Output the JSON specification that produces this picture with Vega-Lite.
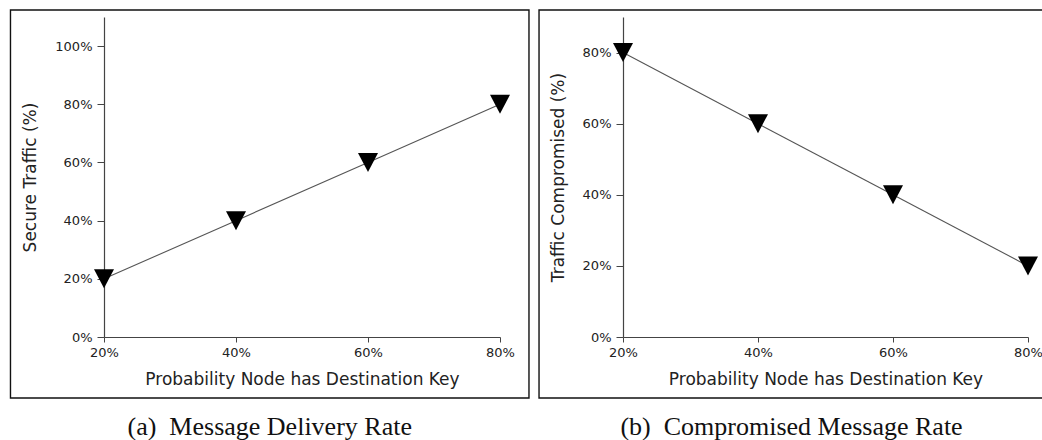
{
  "$schema": "https://vega.github.io/schema/vega-lite/v6.json",
  "padding": {"left": 9, "top": 9, "right": 0, "bottom": 0},
  "spacing": 8,
  "datasets": {
    "rates": [
      {"p": 0.2, "secure": 0.2, "compromised": 0.8},
      {"p": 0.4, "secure": 0.4, "compromised": 0.6},
      {"p": 0.6, "secure": 0.6, "compromised": 0.4},
      {"p": 0.8, "secure": 0.8, "compromised": 0.2}
    ],
    "frame": [{}]
  },
  "hconcat": [
    {
      "width": 396,
      "height": 320,
      "title": {"text": "(a)\u2002Message Delivery Rate"},
      "layer": [
        {
          "data": {"name": "rates"},
          "mark": {"type": "line", "stroke": "#555", "strokeWidth": 1.1},
          "encoding": {
            "x": {"field": "p", "type": "quantitative", "scale": {"domain": [0.2, 0.8], "nice": false, "zero": false},
              "axis": {"values": [0.2, 0.4, 0.6, 0.8], "format": ".0%", "labelFlush": false, "tickSize": 5, "labelPadding": 4, "titlePadding": 12, "title": "Probability Node has Destination Key"}},
            "y": {"field": "secure", "type": "quantitative", "scale": {"domain": [0, 1.1], "nice": false},
              "axis": {"values": [0, 0.1, 0.2, 0.3, 0.4, 0.5, 0.6, 0.7, 0.8, 0.9, 1.0, 1.1], "format": ".0%",
                "labelExpr": "round(datum.value*10)%2==1 ? '' : datum.label",
                "tickSize": {"condition": {"test": "round(datum.value*10)%2==1", "value": 4}, "value": 7},
                "labelPadding": 5,
                "title": "Secure Traffic (%)"}}
          }
        },
        {
          "data": {"name": "rates"},
          "mark": {"type": "point", "shape": "M-1,-0.95L1,-0.95L0,0.95Z", "size": 400, "filled": true, "color": "#000", "opacity": 1},
          "encoding": {
            "x": {"field": "p", "type": "quantitative"},
            "y": {"field": "secure", "type": "quantitative"}
          }
        },
        {
          "data": {"name": "frame"},
          "mark": {"type": "rect", "filled": false, "stroke": "#111", "strokeWidth": 1.4, "clip": false},
          "encoding": {
            "x": {"datum": 0.0583, "type": "quantitative"},
            "x2": {"datum": 0.8439},
            "y": {"datum": 1.1241, "type": "quantitative"},
            "y2": {"datum": -0.2097}
          }
        }
      ]
    },
    {
      "width": 405,
      "height": 320,
      "title": {"text": "(b)\u2002Compromised Message Rate"},
      "layer": [
        {
          "data": {"name": "rates"},
          "mark": {"type": "line", "stroke": "#555", "strokeWidth": 1.1},
          "encoding": {
            "x": {"field": "p", "type": "quantitative", "scale": {"domain": [0.2, 0.8], "nice": false, "zero": false},
              "axis": {"values": [0.2, 0.4, 0.6, 0.8], "format": ".0%", "labelFlush": false, "tickSize": 5, "labelPadding": 4, "titlePadding": 12, "title": "Probability Node has Destination Key"}},
            "y": {"field": "compromised", "type": "quantitative", "scale": {"domain": [0, 0.9], "nice": false},
              "axis": {"values": [0, 0.1, 0.2, 0.3, 0.4, 0.5, 0.6, 0.7, 0.8, 0.9], "format": ".0%",
                "labelExpr": "round(datum.value*10)%2==1 ? '' : datum.label",
                "tickSize": {"condition": {"test": "round(datum.value*10)%2==1", "value": 4}, "value": 7},
                "labelPadding": 5,
                "title": "Traffic Compromised (%)"}}
          }
        },
        {
          "data": {"name": "rates"},
          "mark": {"type": "point", "shape": "M-1,-0.95L1,-0.95L0,0.95Z", "size": 400, "filled": true, "color": "#000", "opacity": 1},
          "encoding": {
            "x": {"field": "p", "type": "quantitative"},
            "y": {"field": "compromised", "type": "quantitative"}
          }
        },
        {
          "data": {"name": "frame"},
          "mark": {"type": "rect", "filled": false, "stroke": "#111", "strokeWidth": 1.4, "clip": false},
          "encoding": {
            "x": {"datum": 0.0756, "type": "quantitative"},
            "x2": {"datum": 0.8237},
            "y": {"datum": 0.9197, "type": "quantitative"},
            "y2": {"datum": -0.1715}
          }
        }
      ]
    }
  ],
  "config": {
    "view": {"stroke": null},
    "axis": {
      "grid": false,
      "labelFont": "DejaVu Sans",
      "labelFontSize": 13,
      "labelColor": "#222",
      "labelPadding": 6,
      "labelOverlap": false,
      "titleFont": "DejaVu Sans",
      "titleFontSize": 17,
      "titleFontWeight": "normal",
      "titleColor": "#222",
      "titlePadding": 15,
      "domainColor": "#444",
      "domainWidth": 1.2,
      "tickColor": "#444",
      "tickWidth": 1
    },
    "title": {
      "font": "Liberation Serif",
      "fontSize": 26,
      "fontWeight": "normal",
      "color": "#111",
      "orient": "bottom",
      "anchor": "middle",
      "frame": "bounds",
      "offset": 15
    }
  }
}
